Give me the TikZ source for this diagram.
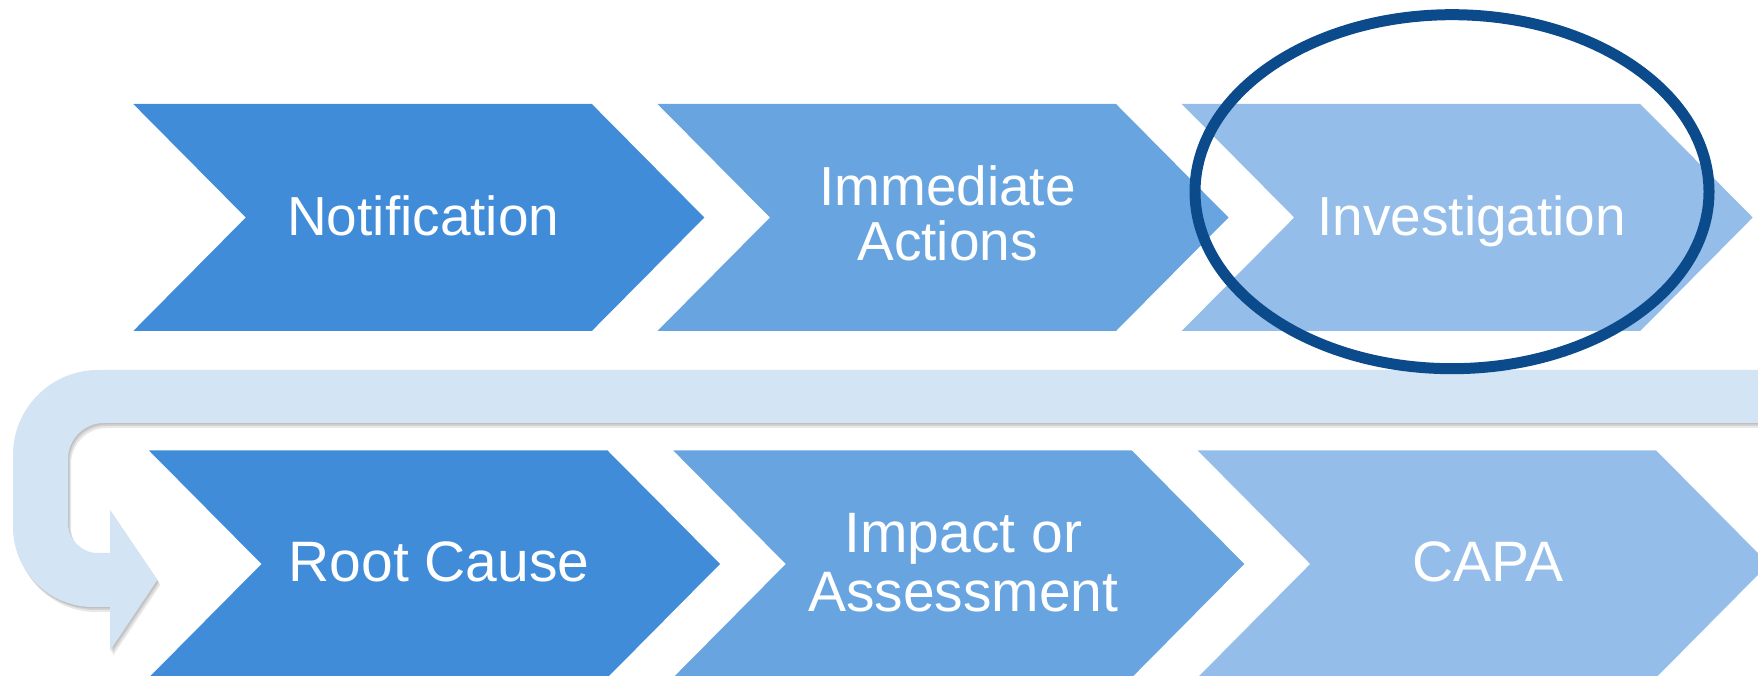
\documentclass[tikz,border=0pt]{standalone}
\usepackage{fontspec}
\setmainfont{Liberation Sans}
\definecolor{cA}{HTML}{408CD8}
\definecolor{cB}{HTML}{68A5E0}
\definecolor{cC}{HTML}{94BEE9}
\definecolor{cBand}{HTML}{D3E4F5}
\definecolor{cRing}{HTML}{0C4B8B}
\newcommand{\twolines}[2]{\vtop{\halign{\hfil##\hfil\cr #1\cr #2\cr}}}
% chevron: left x, top y, bottom y, colour
\newcommand{\chevron}[4]{%
  \fill[#4] (#1,#2) -- ({#1+458.5},#2) -- ({#1+571},{(#2+#3)/2})
    -- ({#1+458.5},#3) -- (#1,#3) -- ({#1+112.5},{(#2+#3)/2}) -- cycle;}
\newcommand{\bandpath}{%
  (1760,306) -- (98,306) arc[start angle=90,end angle=180,radius=85]
  -- (13,149) arc[start angle=180,end angle=270,radius=80]
  -- (110,69) -- (110,25.3) -- (157.3,96) -- (110,166) -- (110,123)
  -- (98,123) arc[start angle=270,end angle=180,radius=30]
  -- (68,217) arc[start angle=180,end angle=90,radius=36]
  -- (1760,253) -- cycle}
\tikzset{
  lbltop/.style={text=white, font=\fontsize{55}{55}\selectfont, anchor=base, inner sep=0pt},
  lblbot/.style={text=white, font=\fontsize{57}{59}\selectfont, anchor=base, inner sep=0pt},
  ring/.style={draw=cRing, line width=11pt},
  bandshadow/.style={fill=black, opacity=0.09}
}
\begin{document}
\begin{tikzpicture}[x=1pt,y=1pt]
\useasboundingbox (0,0) rectangle (1758,676);
\clip (0,0) rectangle (1758,676);
% top row
\chevron{133.3}{572}{345}{cA}
\chevron{657.5}{572}{345}{cB}
\chevron{1181.7}{572}{345}{cC}
% bottom row
\chevron{149}{225.5}{-1.5}{cA}
\chevron{673.3}{225.5}{-1.5}{cB}
\chevron{1197.7}{225.5}{-1.5}{cC}
% U-turn band: soft shadow then band
\fill[bandshadow, shift={(3,-5)}] \bandpath;
\fill[bandshadow, shift={(2,-3)}] \bandpath;
\fill[bandshadow, shift={(1,-1.5)}] \bandpath;
\fill[cBand] \bandpath;
% labels
\node[lbltop] (notif) at (423.3,440) {Notification};
\node[lbltop] (immed) at (947.5,470.3) {\twolines{Immediate}{Actions}};
\node[lbltop] (invest) at (1471.7,440) {Investigation};
\node[lblbot] (root) at (439,94.3) {Root Cause};
\node[lblbot] (impact) at (963.3,123) {\twolines{Impact or}{Assessment}};
\node[lblbot] (capa) at (1487.7,94.3) {CAPA};
% highlight ring
\draw[ring] (1452,484.3) ellipse[x radius=257, y radius=177];
\end{tikzpicture}
\end{document}
